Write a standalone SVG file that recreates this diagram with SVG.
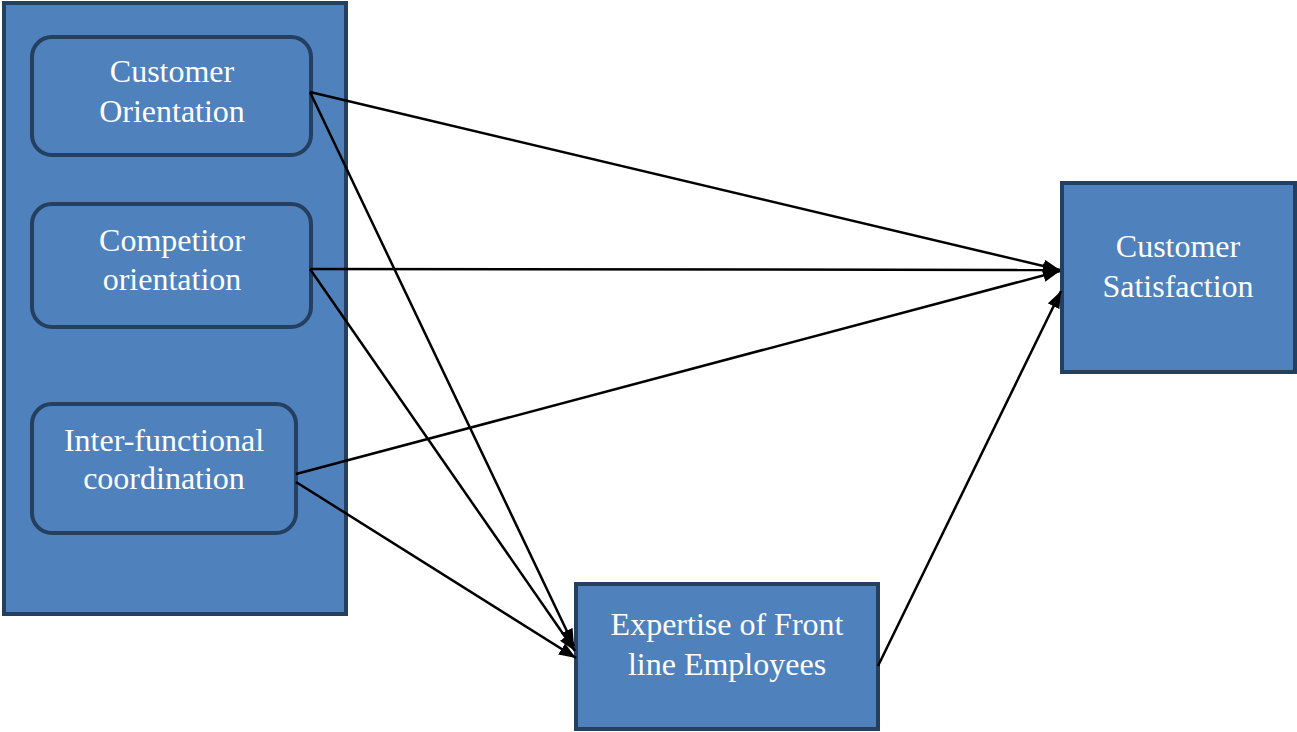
<svg xmlns="http://www.w3.org/2000/svg" width="1297" height="732" viewBox="0 0 1297 732">
<defs>
<style>
.box{fill:#4F81BD;stroke:#243F60;stroke-width:4}
.lbl{font-family:"Liberation Serif","Times New Roman",serif;font-size:32px;fill:#ffffff;text-anchor:middle}
.conn{stroke:#000;stroke-width:2.5;fill:none}
</style>
<marker id="ah" viewBox="0 0 17 13" refX="17" refY="6.5" markerWidth="17" markerHeight="13" markerUnits="userSpaceOnUse" orient="auto">
<path d="M0,0 L17,6.5 L0,13 Z" fill="#000"/>
</marker>
</defs>
<rect width="1297" height="732" fill="#fff"/>
<g id="container"><rect class="box" x="4" y="3" width="342" height="611"/></g>
<g id="customer-orientation">
<rect class="box" x="32" y="37" width="279" height="118" rx="20"/>
<text class="lbl" x="172" y="82">Customer</text>
<text class="lbl" x="172" y="122">Orientation</text>
</g>
<g id="competitor-orientation">
<rect class="box" x="32" y="204" width="279" height="123" rx="20"/>
<text class="lbl" x="172" y="251">Competitor</text>
<text class="lbl" x="172" y="290">orientation</text>
</g>
<g id="inter-functional">
<rect class="box" x="32" y="404" width="264" height="129" rx="20"/>
<text class="lbl" x="164" y="451">Inter-functional</text>
<text class="lbl" x="164" y="489">coordination</text>
</g>
<g id="customer-satisfaction">
<rect class="box" x="1062" y="183" width="233" height="189"/>
<text class="lbl" x="1178" y="257">Customer</text>
<text class="lbl" x="1178" y="297">Satisfaction</text>
</g>
<g id="expertise">
<rect class="box" x="576" y="584" width="302" height="145"/>
<text class="lbl" x="727" y="635">Expertise of Front</text>
<text class="lbl" x="727" y="675">line Employees</text>
</g>
<g id="connectors">
<line class="conn" x1="310" y1="92" x2="1060" y2="270" marker-end="url(#ah)"/>
<line class="conn" x1="310" y1="92" x2="574" y2="646" marker-end="url(#ah)"/>
<line class="conn" x1="310" y1="269" x2="1060" y2="270" marker-end="url(#ah)"/>
<line class="conn" x1="310" y1="269" x2="575" y2="651" marker-end="url(#ah)"/>
<line class="conn" x1="296" y1="474" x2="1060" y2="271" marker-end="url(#ah)"/>
<line class="conn" x1="296" y1="482" x2="576" y2="658" marker-end="url(#ah)"/>
<line class="conn" x1="878" y1="666" x2="1061" y2="291" marker-end="url(#ah)"/>
</g>
</svg>
